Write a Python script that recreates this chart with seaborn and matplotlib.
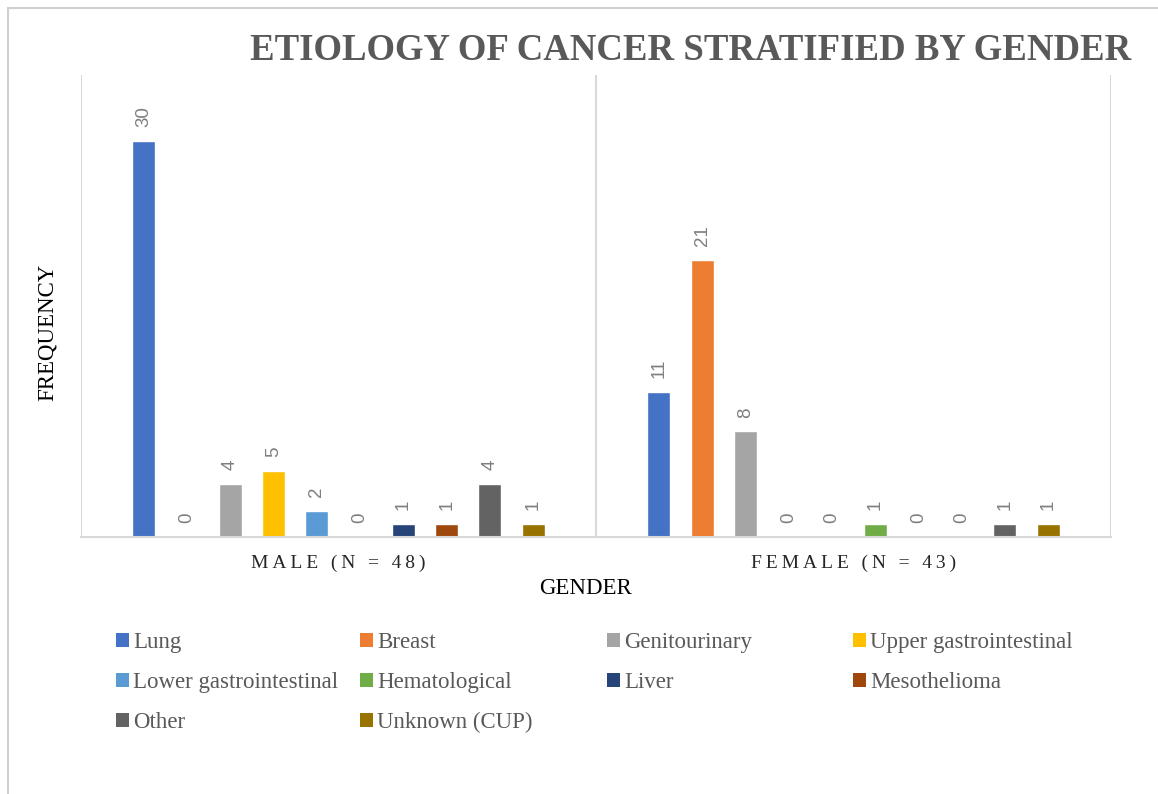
import matplotlib
matplotlib.use("Agg")
import matplotlib.pyplot as plt
from matplotlib.lines import Line2D
from matplotlib.patches import Patch
import seaborn as sns
import pandas as pd

# ---- data ----
groups = ["MALE (N = 48)", "FEMALE (N = 43)"]
categories = ["Lung", "Breast", "Genitourinary", "Upper gastrointestinal",
              "Lower gastrointestinal", "Hematological", "Liver",
              "Mesothelioma", "Other", "Unknown (CUP)"]
male_counts = [30, 0, 4, 5, 2, 0, 1, 1, 4, 1]
female_counts = [11, 21, 8, 0, 0, 1, 0, 0, 1, 1]
colors = ["#4472C4", "#ED7D31", "#A5A5A5", "#FFC000", "#5B9BD5",
          "#70AD47", "#264478", "#9E480E", "#636363", "#997300"]

rows = []
for g, vals in zip(groups, [male_counts, female_counts]):
    for c, v in zip(categories, vals):
        rows.append({"gender": g, "category": c, "count": v})
df = pd.DataFrame(rows)

sns.set_style("white")
plt.rcParams["font.family"] = ["Liberation Serif", "DejaVu Serif"]

W, H = 1158, 794
fig = plt.figure(figsize=(W / 100, H / 100), dpi=100)
ax = fig.add_axes([81 / W, 1 - 537 / H, (1111 - 81) / W, (537 - 75) / H])

sns.barplot(data=df, x="gender", y="count", hue="category",
            hue_order=categories, order=groups, palette=colors,
            width=0.84, gap=0.47, errorbar=None, legend=False,
            saturation=1, ax=ax)

for cont in ax.containers:
    ax.bar_label(cont, padding=10, rotation=90, color="#7F7F7F",
                 fontsize=13.5, family="Liberation Sans")

ax.set_xlim(-0.5, 1.5)
ax.set_ylim(0, 35)
ax.set_yticks([])
for s in ["top", "right", "left"]:
    ax.spines[s].set_visible(False)
ax.spines["bottom"].set_color("#D9D9D9")
ax.spines["bottom"].set_linewidth(1.5)
for xv in [-0.5, 0.5, 1.5]:
    ax.axvline(xv, color="#D9D9D9", lw=1.5, zorder=0)

def spaced(s):
    return "\u2009".join(list(s))

ax.set_xticks([0, 1])
ax.set_xticklabels([spaced(g) for g in groups], fontsize=14, color="#262626")
ax.tick_params(axis="x", length=0, pad=13)

ax.set_xlabel("GENDER", fontsize=16.5, color="black")
ax.xaxis.set_label_coords((585 - 81) / 1030, -(578 - 537) / 462)
ax.set_ylabel("FREQUENCY", fontsize=16.5, color="black")
ax.yaxis.set_label_coords((58 - 81) / 1030, (537 - 332) / 462)

fig.text(691 / W, 1 - 50 / H, "ETIOLOGY OF CANCER STRATIFIED BY GENDER",
         ha="center", va="center", fontsize=26.5, fontweight="bold",
         color="#595959")

# legend: 4 equal-width columns, filled row-wise
col_x = [116, 360, 607, 853]
for j in range(4):
    idx = [i for i in range(j, len(categories), 4)]
    handles = [Patch(facecolor=colors[i], edgecolor="none") for i in idx]
    labels = [categories[i] for i in idx]
    fig.legend(handles, labels, loc="upper left",
               bbox_to_anchor=(col_x[j] / W, 1 - 632 / H),
               frameon=False, fontsize=16.5, handlelength=0.55,
               handleheight=0.55, handletextpad=0.2,
               labelspacing=0.83, borderaxespad=0, borderpad=0,
               labelcolor="#595959")

# figure border (top and left edges visible)
fig.add_artist(Line2D([8 / W, 1], [1 - 8 / H, 1 - 8 / H], color="#D0D0D0", lw=1.5))
fig.add_artist(Line2D([8 / W, 8 / W], [0, 1 - 8 / H], color="#D0D0D0", lw=1.5))

fig.savefig("out.png", dpi=100, facecolor="white")
